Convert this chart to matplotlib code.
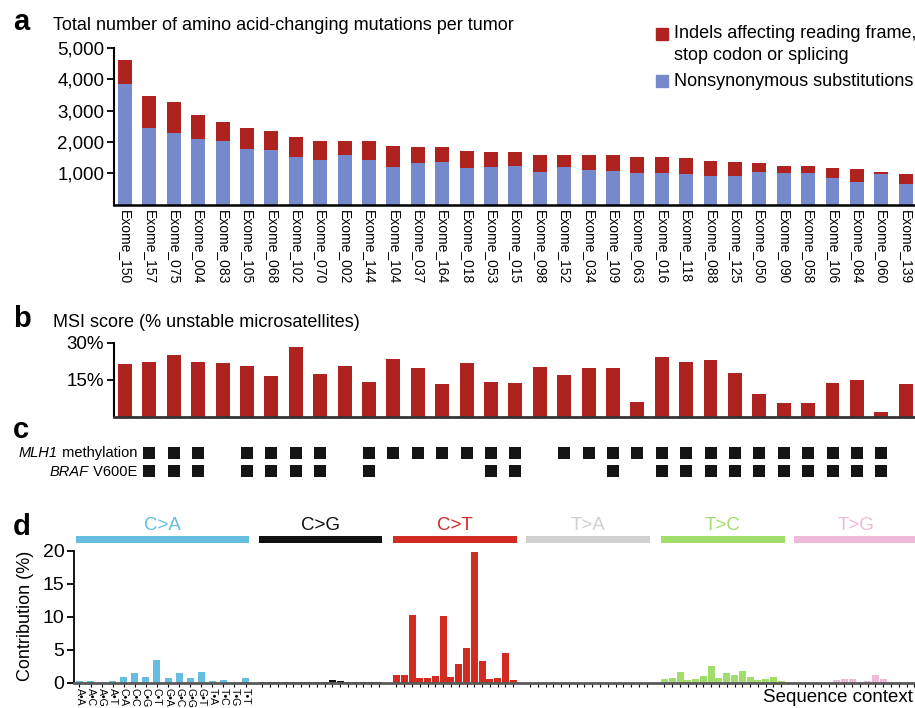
import matplotlib
matplotlib.use('Agg')
import matplotlib.pyplot as plt
from matplotlib.patches import Rectangle
import numpy as np

plt.rcParams['font.family'] = ['Liberation Sans', 'DejaVu Sans']

# ---- data ----
samples = ['150', '157', '075', '004', '083', '105', '068', '102', '070', '002', '144',
           '104', '037', '164', '018', '053', '015', '098', '152', '034', '109', '063',
           '016', '118', '088', '125', '050', '090', '058', '106', '084', '060', '139']
nonsyn = [3850, 2450, 2290, 2100, 2030, 1780, 1740, 1520, 1420, 1580, 1420,
          1200, 1330, 1360, 1170, 1200, 1230, 1040, 1200, 1100, 1070, 1010,
          1010, 980, 910, 910, 1040, 1010, 1010, 850, 720, 980, 660]
indels = [770, 1020, 990, 760, 610, 670, 610, 640, 610, 450, 610,
          670, 510, 480, 540, 480, 450, 540, 380, 480, 510, 510,
          510, 510, 480, 450, 290, 220, 220, 320, 420, 60, 320]
msi = [21.4, 22.2, 25.0, 22.2, 21.8, 20.6, 16.6, 28.3, 17.4, 20.6, 14.2,
       23.4, 19.8, 13.4, 21.8, 14.2, 13.8, 20.2, 17.0, 19.8, 19.8, 6.2,
       24.2, 22.2, 23.0, 17.8, 9.4, 5.8, 5.8, 13.8, 15.0, 2.1, 13.4]
mlh1 = [0, 1, 1, 1, 0, 1, 1, 1, 1, 0, 1, 1, 1, 1, 1, 1, 1, 0, 1, 1, 1, 1,
        1, 1, 1, 1, 1, 1, 1, 1, 1, 1, 0]
braf = [0, 1, 1, 1, 0, 1, 1, 1, 1, 0, 1, 0, 0, 0, 0, 1, 1, 0, 0, 0, 1, 0,
        1, 1, 1, 1, 1, 1, 1, 1, 1, 1, 0]

contexts = ['A•A', 'A•C', 'A•G', 'A•T', 'C•A', 'C•C', 'C•G', 'C•T',
            'G•A', 'G•C', 'G•G', 'G•T', 'T•A', 'T•C', 'T•G', 'T•T']
subs = ['C>A', 'C>G', 'C>T', 'T>A', 'T>C', 'T>G']
ca = [0.25, 0.25, 0.1, 0.25, 0.85, 1.45, 0.85, 3.4, 0.7, 1.45, 0.7, 1.6, 0.25, 0.4, 0.1, 0.7]
cg = [0.08, 0.1, 0.08, 0.08, 0.08, 0.08, 0.08, 0.08, 0.08, 0.45, 0.3, 0.08, 0.08, 0.08, 0.08, 0.08]
ct = [1.15, 1.15, 10.25, 0.7, 0.7, 1.0, 10.1, 0.85, 2.8, 5.25, 19.8, 3.3, 0.55, 0.7, 4.5, 0.4]
ta = [0.03, 0.15, 0.03, 0.15, 0.03, 0.15, 0.15, 0.03, 0.03, 0.15, 0.03, 0.03, 0.03, 0.03, 0.03, 0.03]
tc = [0.55, 0.7, 1.6, 0.4, 0.55, 1.0, 2.5, 0.7, 1.45, 1.15, 1.75, 0.85, 0.4, 0.55, 0.85, 0.25]
tg = [0.03, 0.03, 0.03, 0.03, 0.03, 0.35, 0.5, 0.5, 0.03, 0.2, 1.1, 0.5, 0.03, 0.03, 0.03, 0.03]
spectrum = [ca, cg, ct, ta, tc, tg]

red = '#ae231f'
blue = '#7689cc'
sub_colors = ['#65bddf', '#111111', '#d22b21', '#cfd0cf', '#a1dd6a', '#efb9d9']

W, H = 915, 708
fig = plt.figure(figsize=(W / 100, H / 100), dpi=100)


def px_axes(left, top, right, bottom):
    return fig.add_axes([left / W, 1 - bottom / H, (right - left) / W, (bottom - top) / H])


def fig_text(x, y, s, **kw):
    return fig.text(x / W, 1 - y / H, s, **kw)


x = np.arange(len(samples))
xlim = (-0.45, 32.38)

# ---- a ----
ax = px_axes(114, 47.8, 915, 204.6)
b_ns = ax.bar(x, nonsyn, 0.57, color=blue)
b_in = ax.bar(x, indels, 0.57, bottom=nonsyn, color=red)
ax.set_xlim(*xlim)
ax.set_ylim(0, 5000)
ax.set_yticks([1000, 2000, 3000, 4000, 5000], ['1,000', '2,000', '3,000', '4,000', '5,000'])
ax.set_xticks(x, ['Exome_' + s for s in samples], rotation=270, ha='center', va='top')
ax.tick_params(axis='y', labelsize=13.5, length=5, width=1.3, pad=2)
ax.tick_params(axis='x', labelsize=10, length=0, pad=4)
for s in ['top', 'right']:
    ax.spines[s].set_visible(False)
ax.spines['left'].set_linewidth(1.5)
ax.spines['bottom'].set_linewidth(1.8)

fig_text(13, 30, 'a', fontsize=21, fontweight='bold')
fig_text(53, 30, 'Total number of amino acid-changing mutations per tumor', fontsize=13)

fig.patches.append(Rectangle((656 / W, 1 - 40 / H), 12 / W, 12 / H, color=red,
                             transform=fig.transFigure))
fig.patches.append(Rectangle((656 / W, 1 - 87 / H), 12 / W, 12 / H, color=blue,
                             transform=fig.transFigure))
fig_text(674, 34, 'Indels affecting reading frame,', fontsize=13, va='center')
fig_text(674, 56, 'stop codon or splicing', fontsize=13, va='center')
fig_text(674, 81, 'Nonsynonymous substitutions', fontsize=13, va='center')

# ---- b ----
axb = px_axes(114, 342.7, 915, 417.3)
axb.bar(x, msi, 0.57, color=red)
axb.set_xlim(*xlim)
axb.set_ylim(0, 30)
axb.set_yticks([15, 30], ['15%', '30%'])
axb.set_xticks([])
axb.tick_params(axis='y', labelsize=13.5, length=5, width=1.3, pad=2)
for s in ['top', 'right']:
    axb.spines[s].set_visible(False)
axb.spines['left'].set_linewidth(1.5)
axb.spines['bottom'].set_linewidth(2)
axb.spines['bottom'].set_color('#333333')

fig_text(13, 327, 'b', fontsize=21, fontweight='bold')
fig_text(53, 327, 'MSI score (% unstable microsatellites)', fontsize=13)

# ---- c ----
axc = px_axes(114, 440, 915, 484)
axc.set_xlim(*xlim)
axc.set_ylim(1.658, -0.658)
axc.axis('off')
for row, flags in enumerate([mlh1, braf]):
    xs = [i for i, f in enumerate(flags) if f]
    axc.scatter(xs, [row] * len(xs), marker='s', s=75, color='#141414', linewidths=0)

fig_text(13, 438, 'c', fontsize=21, fontweight='bold')
# gene name in italics, rest upright: place upright part first, then italic before it
renderer = fig.canvas.get_renderer()
for y, gene, rest in [(453, 'MLH1', ' methylation'), (472, 'BRAF', ' V600E')]:
    t = fig_text(137, y, rest, fontsize=10.5, ha='right', va='center')
    bb = t.get_window_extent(renderer)
    fig.text(bb.x0 / (fig.dpi * fig.get_figwidth()), 1 - y / H, gene, fontsize=10.5,
             style='italic', ha='right', va='center')

# ---- d ----
axd = px_axes(74, 550.7, 915, 682.7)
axd.set_xlim(74, 915)
axd.set_ylim(0, 20)
group_start = [79.5, 262.3, 396.5, 530.0, 664.5, 797.6]
group_pitch = [11.07, 7.78, 7.78, 7.78, 7.78, 7.78]
bw = 7.0
all_x = []
for g in range(6):
    gx = group_start[g] + group_pitch[g] * np.arange(16)
    all_x.extend(gx)
    axd.bar(gx, spectrum[g], bw, color=sub_colors[g])
    left, right = gx[0] - bw / 2, gx[-1] + bw / 2
    axd.bar((left + right) / 2, 1.02, right - left, bottom=21.21, color=sub_colors[g],
            clip_on=False)
    axd.text((left + right) / 2, 23.8, subs[g], color=sub_colors[g], fontsize=13.5,
             ha='center', va='center', clip_on=False)

axd.set_xticks(all_x, contexts + [''] * 80, rotation=270, ha='center', va='top')
axd.tick_params(axis='x', labelsize=7.6, length=3, width=0.8, pad=0.5)
axd.set_yticks([0, 5, 10, 15, 20])
axd.tick_params(axis='y', labelsize=14, length=5, width=1.3, pad=2)
for s in ['top', 'right']:
    axd.spines[s].set_visible(False)
axd.spines['left'].set_linewidth(1.3)
axd.spines['bottom'].set_linewidth(2)
axd.spines['bottom'].set_color('#5a5a5a')

fig_text(13, 535, 'd', fontsize=21, fontweight='bold')
fig_text(25, 616, 'Contribution (%)', fontsize=13, rotation=90, ha='center', va='center')
fig_text(913, 697, 'Sequence context', fontsize=13.5, ha='right', va='center')

fig.savefig('out.png', dpi=100)
